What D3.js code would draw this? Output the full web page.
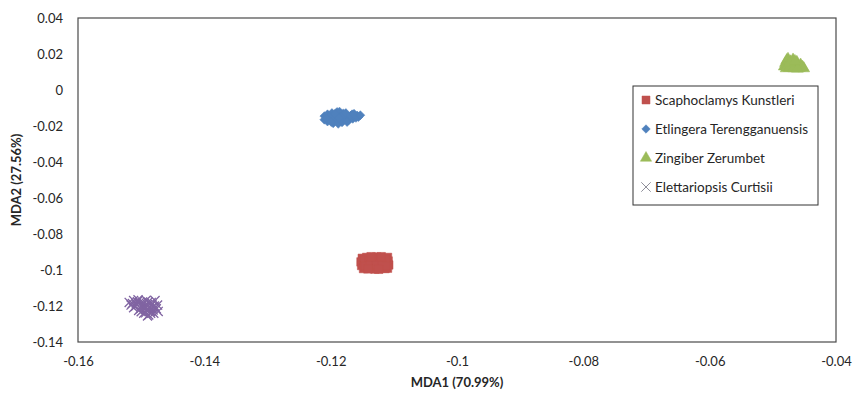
<!DOCTYPE html>
<html>
<head>
<meta charset="utf-8">
<script src="https://cdnjs.cloudflare.com/ajax/libs/d3/7.8.5/d3.min.js"></script>
<style>
  html, body { margin: 0; padding: 0; background: #fff; }
  svg text { font-family: Lato, "Open Sans", sans-serif; fill: #262626; }
</style>
</head>
<body>
<svg id="chart" width="856" height="394"></svg>
<script>
// Species groups, in legend order
const species = ["Scaphoclamys Kunstleri", "Etlingera Terengganuensis", "Zingiber Zerumbet", "Elettariopsis Curtisii"];
const colors = ["#C0504D", "#4F81BD", "#9BBB59", "#8064A2"];
const symbols = ["square", "diamond", "triangle", "cross"];

// MDA1 / MDA2 scores per sample
const scaphoclamys = [
  [-0.1150,-0.0935],[-0.1152,-0.0955],[-0.1151,-0.0975],[-0.1148,-0.0992],[-0.1143,-0.0930],
  [-0.1144,-0.0962],[-0.1140,-0.0985],[-0.1135,-0.0940],[-0.1133,-0.0968],[-0.1130,-0.0995],
  [-0.1127,-0.0928],[-0.1125,-0.0955],[-0.1122,-0.0980],[-0.1118,-0.0938],[-0.1116,-0.0965],
  [-0.1114,-0.0992],[-0.1110,-0.0930],[-0.1109,-0.0950],[-0.1108,-0.0972],[-0.1110,-0.0990],
  [-0.1147,-0.0945],[-0.1139,-0.0952],[-0.1131,-0.0948],[-0.1121,-0.0945],[-0.1113,-0.0942],
  [-0.1146,-0.0978],[-0.1137,-0.0975],[-0.1128,-0.0972],[-0.1119,-0.0975],[-0.1112,-0.0978],
  [-0.1141,-0.0994],[-0.1124,-0.0996],[-0.1136,-0.0926],[-0.1120,-0.0926]
];
const etlingera = [
  [-0.1210,-0.0145],[-0.1210,-0.0165],[-0.1205,-0.0135],[-0.1205,-0.0175],[-0.1200,-0.0155],
  [-0.1198,-0.0128],[-0.1196,-0.0185],[-0.1192,-0.0145],[-0.1190,-0.0122],[-0.1190,-0.0170],
  [-0.1188,-0.0188],[-0.1186,-0.0120],[-0.1185,-0.0150],[-0.1182,-0.0180],[-0.1180,-0.0130],
  [-0.1178,-0.0160],[-0.1175,-0.0140],[-0.1172,-0.0170],[-0.1170,-0.0150],[-0.1166,-0.0135],
  [-0.1165,-0.0160],[-0.1162,-0.0145],[-0.1160,-0.0155],[-0.1158,-0.0142],
  [-0.1202,-0.0148],[-0.1195,-0.0165],[-0.1193,-0.0132],[-0.1184,-0.0168],[-0.1181,-0.0140],
  [-0.1176,-0.0128],[-0.1174,-0.0178],[-0.1168,-0.0142],[-0.1163,-0.0132],[-0.1156,-0.0150],
  [-0.1153,-0.0140],[-0.1207,-0.0158],[-0.1199,-0.0178],[-0.1187,-0.0156]
];
const zingiber = [
  [-0.0482,0.0130],[-0.0480,0.0150],[-0.0478,0.0165],[-0.0476,0.0172],[-0.0475,0.0140],
  [-0.0472,0.0158],[-0.0470,0.0125],[-0.0468,0.0168],[-0.0466,0.0145],[-0.0464,0.0125],
  [-0.0462,0.0155],[-0.0460,0.0135],[-0.0458,0.0122],[-0.0456,0.0140],[-0.0453,0.0128],
  [-0.0451,0.0120],[-0.0479,0.0120],[-0.0474,0.0122],[-0.0467,0.0120],[-0.0461,0.0118],
  [-0.0473,0.0150],[-0.0465,0.0160]
];
const elettariopsis = [
  [-0.1519,-0.1180],[-0.1516,-0.1195],[-0.1512,-0.1170],[-0.1512,-0.1210],[-0.1508,-0.1188],
  [-0.1505,-0.1165],[-0.1504,-0.1225],[-0.1500,-0.1200],[-0.1498,-0.1178],[-0.1496,-0.1240],
  [-0.1494,-0.1215],[-0.1492,-0.1168],[-0.1490,-0.1192],[-0.1488,-0.1250],[-0.1486,-0.1228],
  [-0.1484,-0.1180],[-0.1482,-0.1205],[-0.1480,-0.1240],[-0.1478,-0.1170],[-0.1476,-0.1215],
  [-0.1474,-0.1195],[-0.1473,-0.1230],[-0.1490,-0.1255],[-0.1500,-0.1232],
  [-0.1514,-0.1186],[-0.1509,-0.1202],[-0.1503,-0.1182],[-0.1501,-0.1214],[-0.1497,-0.1190],
  [-0.1495,-0.1204],[-0.1491,-0.1222],[-0.1489,-0.1178],[-0.1487,-0.1210],[-0.1483,-0.1192],
  [-0.1481,-0.1222],[-0.1479,-0.1200],[-0.1506,-0.1176],[-0.1493,-0.1238],[-0.1485,-0.1240]
];
const seriesData = [scaphoclamys, etlingera, zingiber, elettariopsis];

// Axis ticks
const xTicks = [-0.16, -0.14, -0.12, -0.1, -0.08, -0.06, -0.04];
const yTicks = [0.04, 0.02, 0, -0.02, -0.04, -0.06, -0.08, -0.1, -0.12, -0.14];
const xTitle = "MDA1 (70.99%)";
const yTitle = "MDA2 (27.56%)";

const svg = d3.select("#chart");
const plot = { left: 78, top: 18, right: 836, bottom: 342 };

const x = d3.scaleLinear().domain([-0.16, -0.04]).range([plot.left, plot.right]);
const y = d3.scaleLinear().domain([-0.14, 0.04]).range([plot.bottom, plot.top]);

const fmt = v => (Math.abs(v) < 1e-9 ? "0" : String(+v.toFixed(2)));

// Axes (labels only, no tick marks)
const xAxis = svg.append("g")
  .attr("transform", `translate(0,${plot.bottom})`)
  .call(d3.axisBottom(x).tickValues(xTicks).tickFormat(fmt).tickSize(0).tickPadding(15));
const yAxis = svg.append("g")
  .attr("transform", `translate(${plot.left},0)`)
  .call(d3.axisLeft(y).tickValues(yTicks).tickFormat(fmt).tickSize(0).tickPadding(15));
[xAxis, yAxis].forEach(g => {
  g.select(".domain").remove();
  g.selectAll("text").attr("font-size", 13).attr("font-family", "Lato, sans-serif").attr("fill", "#262626");
});

// Plot frame
svg.append("rect")
  .attr("x", plot.left).attr("y", plot.top)
  .attr("width", plot.right - plot.left).attr("height", plot.bottom - plot.top)
  .attr("fill", "none").attr("stroke", "#4a4a4a").attr("stroke-width", 1.2);

// Axis titles
svg.append("text")
  .attr("x", (plot.left + plot.right) / 2).attr("y", 387)
  .attr("text-anchor", "middle").attr("font-size", 13).attr("font-weight", "bold")
  .text(xTitle);
svg.append("text")
  .attr("transform", `translate(21,${(plot.top + plot.bottom) / 2}) rotate(-90)`)
  .attr("text-anchor", "middle").attr("font-size", 13).attr("font-weight", "bold")
  .text(yTitle);

// Marker shapes; the diamond is a square turned 45 degrees
const sq = d3.symbol().type(d3.symbolSquare);
const shapeFor = {
  square: { path: sq.size(72)(), rot: 0 },
  diamond: { path: d3.symbol().type(d3.symbolSquare).size(40)(), rot: 45 },
  triangle: { path: d3.symbol().type(d3.symbolTriangle).size(60)(), rot: 0 },
  cross: { path: d3.symbol().type(d3.symbolX).size(55)(), rot: 0 }
};

seriesData.forEach((pts, i) => {
  const g = svg.append("g");
  const s = shapeFor[symbols[i]];
  g.selectAll("path").data(pts).join("path")
    .attr("transform", d => `translate(${x(d[0])},${y(d[1])}) rotate(${s.rot})`)
    .attr("d", s.path)
    .attr("fill", symbols[i] === "cross" ? "none" : colors[i])
    .attr("stroke", colors[i])
    .attr("stroke-width", symbols[i] === "cross" ? 1.3 : 0.5);
});

// Legend
const legend = svg.append("g");
legend.append("rect")
  .attr("x", 633).attr("y", 86).attr("width", 185).attr("height", 119)
  .attr("fill", "#fff").attr("stroke", "#333").attr("stroke-width", 1);
const legendShape = {
  square: { path: d3.symbol().type(d3.symbolSquare).size(64)(), rot: 0 },
  diamond: { path: d3.symbol().type(d3.symbolSquare).size(36)(), rot: 45 },
  triangle: { path: d3.symbol().type(d3.symbolTriangle).size(55)(), rot: 0 },
  cross: { path: d3.symbol().type(d3.symbolX).size(60)(), rot: 0 }
};
species.forEach((name, i) => {
  const cy = 100 + i * 29;
  const s = legendShape[symbols[i]];
  legend.append("path")
    .attr("transform", `translate(646,${cy}) rotate(${s.rot})`)
    .attr("d", s.path)
    .attr("fill", symbols[i] === "cross" ? "none" : colors[i])
    .attr("stroke", symbols[i] === "cross" ? "#8f8f9a" : colors[i])
    .attr("stroke-width", symbols[i] === "cross" ? 1 : 0.5);
  legend.append("text")
    .attr("x", 655).attr("y", cy + 4.5)
    .attr("font-size", 13.5)
    .text(name);
});
</script>
</body>
</html>
